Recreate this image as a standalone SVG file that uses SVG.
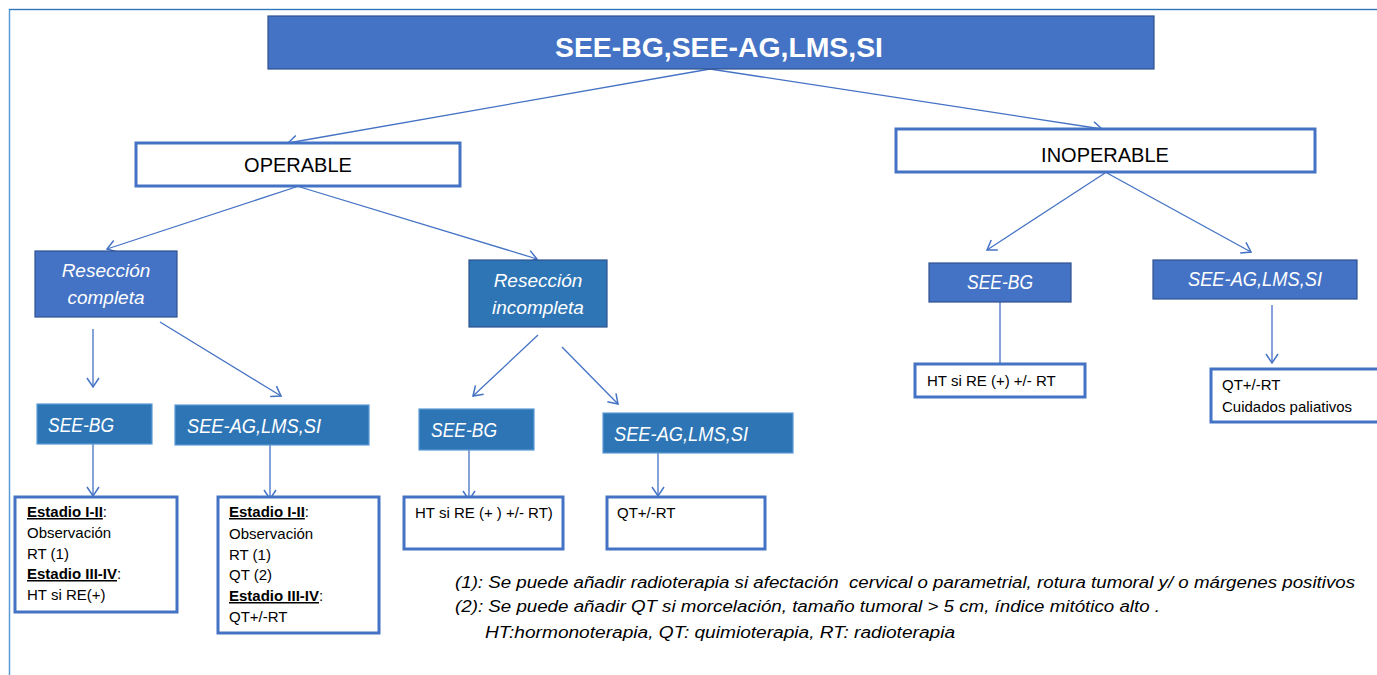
<svg xmlns="http://www.w3.org/2000/svg" width="1377" height="675" viewBox="0 0 1377 675">
<style>
.t{font-family:"Liberation Sans",Arial,sans-serif}
.w{fill:#fff}
.k{fill:#000}
.it{font-style:italic}
.bd{font-weight:bold}
.u{text-decoration:underline}
.dark{fill:#4472c4;stroke:#2f528f;stroke-width:1.2}
.mid{fill:#2e75b6;stroke:#5b9bd5;stroke-width:1.2}
.res{fill:#fff;stroke:#4472c4;stroke-width:3}
.c{stroke:#4472c4;stroke-width:1.3;fill:none;marker-end:url(#ah)}
</style>
<defs>
<marker id="ah" markerUnits="userSpaceOnUse" markerWidth="16" markerHeight="16" viewBox="-10 -8 12 16" refX="0" refY="0" orient="auto">
<polyline points="-9,-6 0,0 -9,6" fill="none" stroke="#4472c4" stroke-width="1.5"/>
</marker>
</defs>
<rect width="1377" height="675" fill="#fff"/>
<rect x="9.5" y="9.5" width="1400" height="700" fill="none" stroke="#5b9bd5" stroke-width="1.5"/>
<line x1="9" y1="9.5" x2="1377" y2="9.5" stroke="#2e75b6" stroke-width="1"/>

<g id="connectors">
<line class="c" x1="710" y1="69" x2="288" y2="143"/>
<line class="c" x1="710" y1="69" x2="1102" y2="129"/>
<line class="c" x1="296" y1="187" x2="107" y2="249"/>
<line class="c" x1="300" y1="187" x2="537" y2="259"/>
<line class="c" x1="93" y1="329" x2="93" y2="387"/>
<line class="c" x1="160" y1="322" x2="281" y2="396"/>
<line class="c" x1="93" y1="444" x2="93" y2="496"/>
<line class="c" x1="270" y1="445" x2="270" y2="499"/>
<line class="c" x1="538" y1="335" x2="473" y2="396"/>
<line class="c" x1="562" y1="347" x2="618" y2="404"/>
<line class="c" x1="469" y1="450" x2="469" y2="500"/>
<line class="c" x1="658" y1="442" x2="658" y2="496"/>
<line class="c" x1="1105" y1="173" x2="987" y2="250"/>
<line class="c" x1="1107" y1="173" x2="1251" y2="252"/>
<line class="c" x1="1000" y1="302" x2="1000" y2="373"/>
<line class="c" x1="1272" y1="305" x2="1272" y2="363"/>
</g>

<g id="title">
<rect class="dark" x="268" y="16" width="886" height="53"/>
<text class="t w bd" x="719" y="57" font-size="28.5" text-anchor="middle" textLength="328" lengthAdjust="spacingAndGlyphs">SEE-BG,SEE-AG,LMS,SI</text>
</g>

<g id="operable">
<rect class="res" x="136" y="143" width="324" height="43"/>
<text class="t k" x="298" y="172" font-size="20" text-anchor="middle">OPERABLE</text>
</g>

<g id="inoperable">
<rect class="res" x="896" y="129" width="419" height="43"/>
<text class="t k" x="1105" y="162" font-size="20" text-anchor="middle">INOPERABLE</text>
</g>

<g id="reseccion-completa">
<rect class="dark" x="35" y="251" width="142" height="66"/>
<text class="t w it" x="106" y="277" font-size="19" text-anchor="middle">Resección</text>
<text class="t w it" x="106" y="304" font-size="19" text-anchor="middle">completa</text>
</g>

<g id="reseccion-incompleta">
<rect class="mid" x="469" y="260" width="138" height="67" style="stroke:#2f528f"/>
<text class="t w it" x="538" y="287" font-size="19" text-anchor="middle">Resección</text>
<text class="t w it" x="538" y="314" font-size="19" text-anchor="middle">incompleta</text>
</g>

<g id="see-bg-1">
<rect class="mid" x="37" y="404" width="115" height="40"/>
<text class="t w it" x="48" y="432" font-size="19.5" textLength="66" lengthAdjust="spacingAndGlyphs">SEE-BG</text>
</g>

<g id="see-ag-1">
<rect class="mid" x="175" y="405" width="194" height="40"/>
<text class="t w it" x="187" y="433" font-size="19.5" textLength="134" lengthAdjust="spacingAndGlyphs">SEE-AG,LMS,SI</text>
</g>

<g id="estadio-1">
<rect class="res" x="15" y="497" width="162" height="115"/>
<text class="t k" x="27" y="517" font-size="15"><tspan class="bd u">Estadio I-II</tspan>:</text>
<text class="t k" x="27" y="538" font-size="15">Observación</text>
<text class="t k" x="27" y="559" font-size="15">RT (1)</text>
<text class="t k" x="27" y="579" font-size="15"><tspan class="bd u">Estadio III-IV</tspan>:</text>
<text class="t k" x="27" y="600" font-size="15">HT si RE(+)</text>
</g>

<g id="estadio-2">
<rect class="res" x="218" y="497" width="161" height="136"/>
<text class="t k" x="229" y="517" font-size="15"><tspan class="bd u">Estadio I-II</tspan>:</text>
<text class="t k" x="229" y="539" font-size="15">Observación</text>
<text class="t k" x="229" y="560" font-size="15">RT (1)</text>
<text class="t k" x="229" y="580" font-size="15">QT (2)</text>
<text class="t k" x="229" y="601" font-size="15"><tspan class="bd u">Estadio III-IV</tspan>:</text>
<text class="t k" x="229" y="622" font-size="15">QT+/-RT</text>
</g>

<g id="see-bg-2">
<rect class="mid" x="419" y="409" width="115" height="41"/>
<text class="t w it" x="431" y="437" font-size="19.5" textLength="66" lengthAdjust="spacingAndGlyphs">SEE-BG</text>
</g>

<g id="see-ag-2">
<rect class="mid" x="603" y="413" width="190" height="40"/>
<text class="t w it" x="614" y="441" font-size="19.5" textLength="134" lengthAdjust="spacingAndGlyphs">SEE-AG,LMS,SI</text>
</g>

<g id="ht-2">
<rect class="res" x="404" y="497" width="159" height="52"/>
<text class="t k" x="415" y="518" font-size="15">HT si RE (+ ) +/- RT)</text>
</g>

<g id="qt-2">
<rect class="res" x="607" y="497" width="158" height="52"/>
<text class="t k" x="617" y="518" font-size="15">QT+/-RT</text>
</g>

<g id="see-bg-3">
<rect class="dark" x="929" y="263" width="142" height="39"/>
<text class="t w it" x="1000" y="289" font-size="19.5" text-anchor="middle" textLength="66" lengthAdjust="spacingAndGlyphs">SEE-BG</text>
</g>

<g id="see-ag-3">
<rect class="dark" x="1153" y="260" width="204" height="39"/>
<text class="t w it" x="1255" y="286" font-size="19.5" text-anchor="middle" textLength="134" lengthAdjust="spacingAndGlyphs">SEE-AG,LMS,SI</text>
</g>

<g id="ht-3">
<rect class="res" x="915" y="364" width="170" height="33"/>
<text class="t k" x="927" y="386" font-size="15">HT si RE (+) +/- RT</text>
</g>

<g id="qt-3">
<rect class="res" x="1211" y="369" width="180" height="53"/>
<text class="t k" x="1222" y="390" font-size="15">QT+/-RT</text>
<text class="t k" x="1222" y="412" font-size="15">Cuidados paliativos</text>
</g>

<g id="notes">
<text class="t k it" x="455" y="588" font-size="16" textLength="900" lengthAdjust="spacingAndGlyphs" style="white-space:pre">(1): Se puede añadir radioterapia si afectación  cervical o parametrial, rotura tumoral y/ o márgenes positivos</text>
<text class="t k it" x="455" y="612" font-size="16" textLength="705" lengthAdjust="spacingAndGlyphs">(2): Se puede añadir QT si morcelación, tamaño tumoral &gt; 5 cm, índice mitótico alto .</text>
<text class="t k it" x="485" y="638" font-size="16" textLength="470" lengthAdjust="spacingAndGlyphs">HT:hormonoterapia, QT: quimioterapia, RT: radioterapia</text>
</g>
</svg>
